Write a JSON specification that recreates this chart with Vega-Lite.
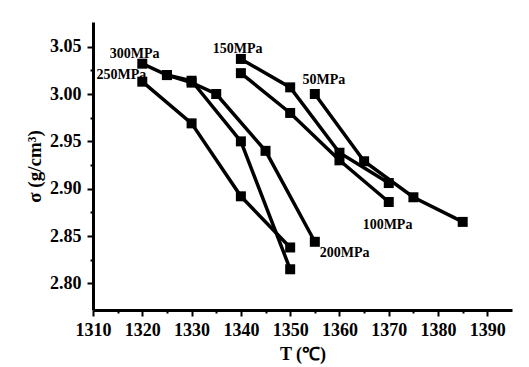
{
  "$schema": "https://vega.github.io/schema/vega-lite/v6.json",
  "width": 419,
  "height": 288,
  "autosize": "none",
  "padding": {"left": 93, "top": 22, "right": 17, "bottom": 57},
  "background": "white",
  "config": {
    "view": {"stroke": null},
    "font": "Liberation Serif",
    "axis": {
      "grid": false,
      "domainColor": "black",
      "domainWidth": 3,
      "tickColor": "black",
      "tickWidth": 2,
      "labelColor": "black",
      "labelFont": "Liberation Serif",
      "labelFontWeight": "bold",
      "labelFontSize": 18,
      "titleFont": "Liberation Serif",
      "titleFontWeight": "bold",
      "titleColor": "black"
    }
  },
  "datasets": {
    "pts": [
      {"series": "300MPa", "T": 1320, "d": 3.032},
      {"series": "300MPa", "T": 1325, "d": 3.020},
      {"series": "300MPa", "T": 1330, "d": 3.014},
      {"series": "300MPa", "T": 1340, "d": 2.950},
      {"series": "300MPa", "T": 1350, "d": 2.815},
      {"series": "200MPa", "T": 1325, "d": 3.020},
      {"series": "200MPa", "T": 1330, "d": 3.012},
      {"series": "200MPa", "T": 1335, "d": 3.000},
      {"series": "200MPa", "T": 1345, "d": 2.940},
      {"series": "200MPa", "T": 1355, "d": 2.844},
      {"series": "250MPa", "T": 1320, "d": 3.013},
      {"series": "250MPa", "T": 1330, "d": 2.969},
      {"series": "250MPa", "T": 1340, "d": 2.892},
      {"series": "250MPa", "T": 1350, "d": 2.838},
      {"series": "150MPa", "T": 1340, "d": 3.037},
      {"series": "150MPa", "T": 1350, "d": 3.007},
      {"series": "150MPa", "T": 1360, "d": 2.938},
      {"series": "150MPa", "T": 1370, "d": 2.906},
      {"series": "100MPa", "T": 1340, "d": 3.022},
      {"series": "100MPa", "T": 1350, "d": 2.980},
      {"series": "100MPa", "T": 1360, "d": 2.930},
      {"series": "100MPa", "T": 1370, "d": 2.886},
      {"series": "50MPa", "T": 1355, "d": 3.000},
      {"series": "50MPa", "T": 1365, "d": 2.929},
      {"series": "50MPa", "T": 1375, "d": 2.891},
      {"series": "50MPa", "T": 1385, "d": 2.865}
    ],
    "labels": [
      {"label": "300MPa", "T": 1313.4, "d": 3.042},
      {"label": "250MPa", "T": 1310.7, "d": 3.020},
      {"label": "150MPa", "T": 1334.3, "d": 3.048},
      {"label": "50MPa", "T": 1352.5, "d": 3.015},
      {"label": "100MPa", "T": 1364.7, "d": 2.862},
      {"label": "200MPa", "T": 1356.0, "d": 2.832}
    ]
  },
  "encoding": {
    "x": {
      "field": "T",
      "type": "quantitative",
      "scale": {"domain": [1310, 1395], "nice": false, "zero": false},
      "axis": {
        "title": "T (℃)",
        "titleFontSize": 18,
        "titlePadding": 6,
        "format": "d",
        "values": [1310, 1315, 1320, 1325, 1330, 1335, 1340, 1345, 1350, 1355, 1360, 1365, 1370, 1375, 1380, 1385, 1390],
        "labelExpr": "datum.value % 10 === 0 ? datum.label : ''",
        "tickSize": {"condition": {"test": "datum.value % 10 === 0", "value": 6}, "value": 3},
        "labelPadding": 5,
        "labelFlush": false,
        "labelOverlap": false
      }
    },
    "y": {
      "field": "d",
      "type": "quantitative",
      "scale": {"domain": [2.772, 3.076], "nice": false, "zero": false},
      "axis": {
        "title": "σ (g/cm³)",
        "titleFontSize": 19,
        "titlePadding": 5,
        "values": [2.8, 2.825, 2.85, 2.875, 2.9, 2.925, 2.95, 2.975, 3.0, 3.025, 3.05],
        "format": ".2f",
        "labelExpr": "abs(round(datum.value * 1000) % 50) == 0 ? datum.label : ''",
        "tickSize": {"condition": {"test": "abs(round(datum.value * 1000) % 50) == 0", "value": 6}, "value": 3},
        "labelPadding": 6,
        "labelFlush": false,
        "labelOverlap": false
      }
    }
  },
  "layer": [
    {
      "data": {"name": "pts"},
      "mark": {"type": "line", "color": "black", "strokeWidth": 3.5},
      "encoding": {"detail": {"field": "series"}}
    },
    {
      "data": {"name": "pts"},
      "mark": {"type": "square", "size": 100, "color": "black", "filled": true, "opacity": 1}
    },
    {
      "data": {"name": "labels"},
      "mark": {"type": "text", "align": "left", "baseline": "middle", "fontSize": 14, "fontWeight": "bold", "color": "black", "font": "Liberation Serif"},
      "encoding": {"text": {"field": "label"}}
    }
  ]
}
